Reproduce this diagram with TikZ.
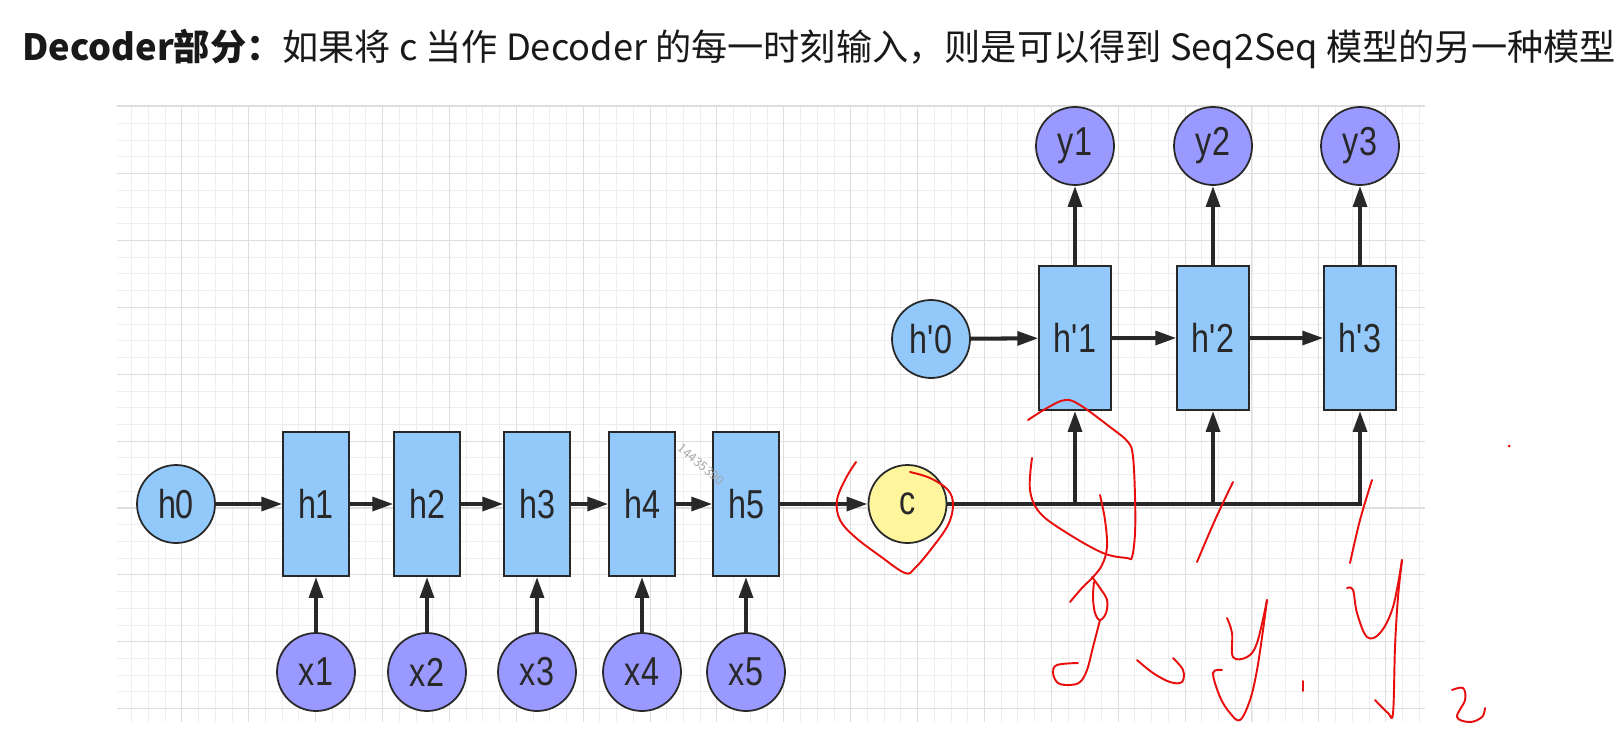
\documentclass[tikz,border=0pt]{standalone}
\usepackage{fontspec}
\usetikzlibrary{arrows.meta}
\newfontfamily\cjkfont{Noto Sans CJK SC}
\newfontfamily\labelfont[FakeStretch=0.8]{Liberation Sans}
\definecolor{cellblue}{RGB}{146,200,250}
\definecolor{inviolet}{RGB}{153,153,255}
\definecolor{ctxyellow}{RGB}{255,245,157}
\definecolor{inkgray}{RGB}{40,40,40}
\definecolor{gridminor}{RGB}{238,238,238}
\definecolor{gridmajor}{RGB}{222,222,222}
\definecolor{penred}{RGB}{232,14,14}
\tikzset{
	cell/.style={draw=inkgray, line width=1pt, fill=cellblue, minimum width=1.31cm, minimum height=2.88cm, inner sep=0pt, text=inkgray, font=\labelfont\fontsize{23}{25}\selectfont},
	deccell/.style={cell, minimum width=1.43cm},
	state/.style={circle, draw=inkgray, line width=1pt, fill=cellblue, minimum size=1.56cm, inner sep=0pt, text=inkgray, font=\labelfont\fontsize{23}{25}\selectfont},
	token/.style={state, fill=inviolet},
	ctx/.style={state, fill=ctxyellow},
	link/.style={draw=inkgray, line width=2.3pt, -{Triangle[length=12pt,width=7.8pt]}},
	scribble/.style={draw=penred, line width=1.1pt, line cap=round, line join=round}
}
\begin{document}
\begin{tikzpicture}[x=0.02cm, y=-0.02cm]
	\useasboundingbox (0,0) rectangle (1621,734);
	% grid paper
	\foreach \i in {0,...,77}
		\draw[gridminor, line width=0.5pt] ({131.7+16.72*\i},105) -- ({131.7+16.72*\i},722);
	\foreach \j in {1,...,36}
		\draw[gridminor, line width=0.5pt] (117,{106.7+16.72*\j}) -- (1425,{106.7+16.72*\j});
	\foreach \i in {3,7,...,75}
		\draw[gridmajor, line width=0.6pt] ({131.7+16.72*\i},105) -- ({131.7+16.72*\i},722);
	\foreach \j in {4,8,...,36}
		\draw[gridmajor, line width=0.6pt] (117,{106.7+16.72*\j}) -- (1425,{106.7+16.72*\j});
	\draw[gridmajor, line width=1.6pt] (117,106) -- (1425,106);

	\node[anchor=base west, inner sep=0pt, text=black!90, font=\cjkfont\fontsize{20.6}{24}\selectfont] (title) at (22,60) {\textbf{Decoder部分：}如果将 c 当作 Decoder 的每一时刻输入，则是可以得到 Seq2Seq 模型的另一种模型};

	% encoder
	\node[state] (h0) at (176,504) {h0};
	\foreach \n/\px in {1/316, 2/427, 3/537, 4/642, 5/746} {
		\node[cell] (h\n) at (\px,504) {h\n};
		\node[token] (x\n) at (\px,672) {x\n};
		\draw[link] (x\n) -- (h\n);
	}
	\foreach \a/\b in {h0/h1, h1/h2, h2/h3, h3/h4, h4/h5}
		\draw[link] (\a) -- (\b);
	\node[ctx] (c) at (907.5,504) {c};
	\draw[link] (h5) -- (c);

	% decoder
	\node[state] (d0) at (931,339) {h'0};
	\foreach \n/\px in {1/1075, 2/1213, 3/1360} {
		\node[deccell] (d\n) at (\px,338) {h'\n};
		\node[token] (y\n) at (\px,146) {y\n};
		\draw[link] (d\n) -- (y\n);
		\coordinate (t\n) at (d\n.south |- c.east);
	}
	\foreach \a/\b in {d0/d1, d1/d2, d2/d3}
		\draw[link] (\a) -- (\b);
	\draw[link, line join=miter] (c) -- (t3) -- (d3);
	\draw[link] (t1) -- (d1);
	\draw[link] (t2) -- (d2);

	\node[anchor=west, rotate=-40, inner sep=0pt, text=black!35, font=\sffamily\fontsize{7.5}{8}\selectfont] (mark) at (679,446) {14435390};

	% hand notes
	\draw[scribble] plot[smooth, tension=0.6] coordinates {(856,462) (846,478) (837,500) (840,520) (855,537) (880,556) (905,573) (915,568) (932,548) (948,525) (953,505) (948,490) (930,478) (910,472)};
	\draw[scribble] plot[smooth, tension=0.6] coordinates {(1028,420) (1047,408) (1065,400) (1080,405) (1110,427) (1128,442) (1133,457) (1135,497) (1135,533) (1132,557) (1127,558) (1103,553) (1067,533) (1040,513) (1030,490) (1032,458)};
	\draw[scribble] plot[smooth, tension=0.6] coordinates {(1100,495) (1105,520) (1107,547) (1102,565) (1093,577) (1082,588) (1070,602)};
	\draw[scribble] plot[smooth, tension=0.6] coordinates {(1092,577) (1100,588) (1107,600) (1106,613) (1100,620) (1095,613) (1093,597) (1094,582)};
	\draw[scribble] plot[smooth, tension=0.6] coordinates {(1100,620) (1093,647) (1087,670) (1080,682) (1070,685) (1058,683) (1053,673) (1057,665) (1078,663)};
	\draw[scribble] plot[smooth, tension=0.6] coordinates {(1137,660) (1153,673) (1170,682) (1182,682) (1183,670) (1173,658)};
	\draw[scribble] plot[smooth, tension=0.6] coordinates {(1233,482) (1215,520) (1197,562)};
	\draw[scribble] plot[smooth, tension=0.6] coordinates {(1227,618) (1232,633) (1233,657) (1247,657) (1257,643) (1267,600)};
	\draw[scribble] plot[smooth, tension=0.6] coordinates {(1267,600) (1263,630) (1257,670) (1250,700) (1240,720) (1230,713) (1220,697) (1213,673) (1222,670)};
	\draw[scribble] (1303,681) -- (1303,691);
	\draw[scribble] plot[smooth, tension=0.6] coordinates {(1372,480) (1360,520) (1350,563)};
	\draw[scribble] plot[smooth, tension=0.6] coordinates {(1347,588) (1353,590) (1357,613) (1367,637) (1380,633) (1393,607) (1402,560)};
	\draw[scribble] plot[smooth, tension=0.6] coordinates {(1402,560) (1398,597) (1395,647) (1393,713) (1388,713) (1375,700)};
	\draw[scribble] plot[smooth, tension=0.6] coordinates {(1452,690) (1463,688) (1465,700) (1457,717) (1470,722) (1482,717) (1485,708)};
	\fill[penred] (1509,446) circle (1.5);
\end{tikzpicture}
\end{document}
